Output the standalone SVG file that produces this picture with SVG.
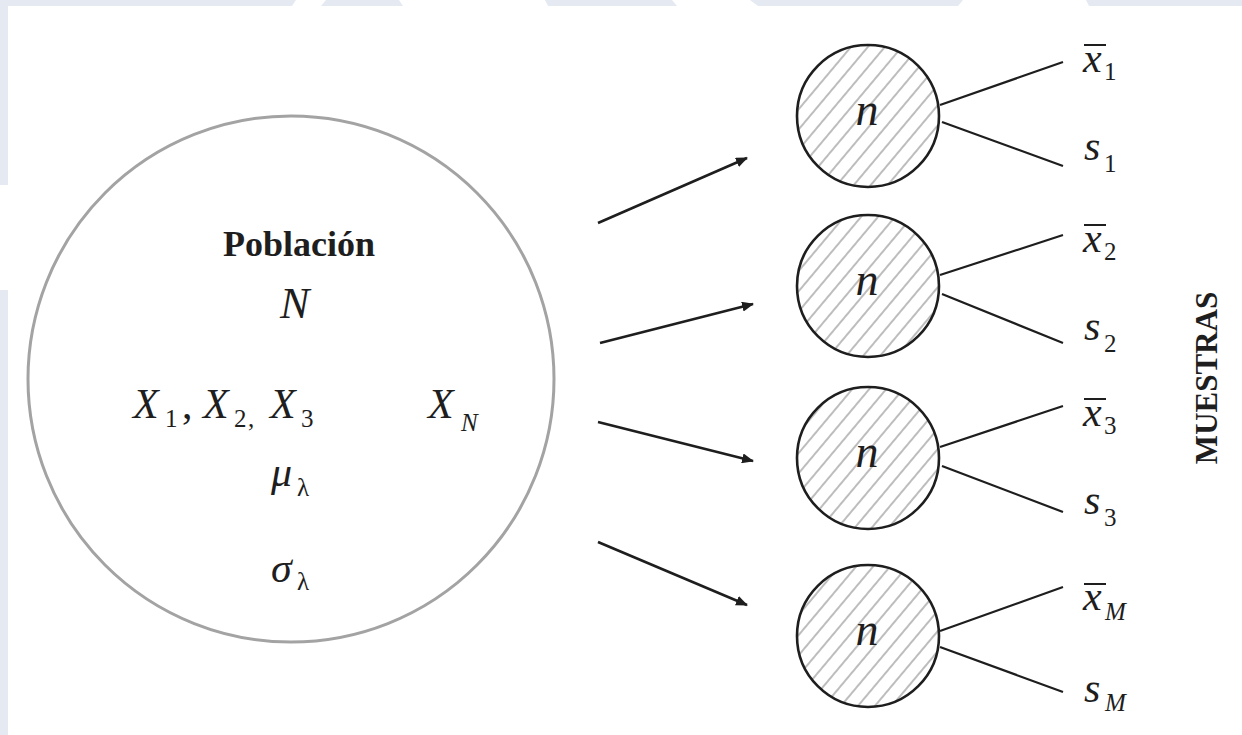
<svg xmlns="http://www.w3.org/2000/svg" width="1242" height="735" viewBox="0 0 1242 735">
<style>
.bg{fill:#e5eaf2}
.serif{font-family:"Liberation Serif","Times New Roman",serif;fill:#1e1e1e}
.it{font-style:italic}
.main{font-size:42px}
.sub{font-size:25px}
.small{stroke:#1e1e1e;stroke-width:2.6}
.branch{stroke:#1e1e1e;stroke-width:2.2;fill:none}
.conn{stroke:#1e1e1e;stroke-width:2.6;fill:none}
.bar{stroke:#1e1e1e;stroke-width:2}
</style>
<defs>
<pattern id="hatch" width="13" height="13" patternUnits="userSpaceOnUse" patternTransform="rotate(40)">
<rect width="13" height="13" fill="#fff"/>
<line x1="6" y1="0" x2="6" y2="13" stroke="#9a9a9a" stroke-width="1.3"/>
</pattern>
<marker id="arrow" viewBox="0 0 12 10" refX="11" refY="5" markerWidth="12" markerHeight="10" markerUnits="userSpaceOnUse" orient="auto">
<path d="M0,0 L12,5 L0,10 Z" fill="#1e1e1e"/>
</marker>
</defs>
<rect width="1242" height="735" fill="#fff"/>
<g id="background">
<rect class="bg" x="0" y="0" width="8" height="185"/>
<rect class="bg" x="0" y="290" width="8" height="445"/>
<path class="bg" d="M0,0 H296 L292,6 H0 Z"/>
<path class="bg" d="M321,6 L326,0 H399 L403,6 Z"/>
<path class="bg" d="M545,0 H672 L677,6 H548 Z"/>
<path class="bg" d="M750,0 H1242 V6 H1089 L1086,0 H963 L958,6 H758 Z"/>
</g>
<g id="population">
<circle cx="291" cy="379" r="263" fill="none" stroke="#a3a3a3" stroke-width="3"/>
<text class="serif" x="299" y="256" text-anchor="middle" font-size="36" font-weight="bold">Población</text>
<text class="serif it" x="280" y="318" font-size="44">N</text>
<text class="serif" y="418"><tspan class="it main" x="133">X</tspan><tspan class="sub" x="165" y="427">1</tspan><tspan class="main" x="182" y="418">,</tspan><tspan class="it main" x="203">X</tspan><tspan class="sub" x="234" y="427">2</tspan><tspan class="sub" x="248" y="427">,</tspan><tspan class="it main" x="270" y="418">X</tspan><tspan class="sub" x="301" y="427">3</tspan></text>
<text class="serif" y="418"><tspan class="it main" x="428">X</tspan><tspan class="it sub" x="461" y="431">N</tspan></text>
<text class="serif" y="486"><tspan class="it main" x="271">μ</tspan><tspan class="sub" x="297" y="496">λ</tspan></text>
<text class="serif" y="582"><tspan class="it main" x="271">σ</tspan><tspan class="sub" x="297" y="590">λ</tspan></text>
</g>
<g id="connectors">
<line class="conn" x1="598" y1="223" x2="747" y2="158" marker-end="url(#arrow)"/>
<line class="conn" x1="600" y1="343" x2="753" y2="304" marker-end="url(#arrow)"/>
<line class="conn" x1="598" y1="422" x2="753" y2="461" marker-end="url(#arrow)"/>
<line class="conn" x1="598" y1="542" x2="747" y2="605" marker-end="url(#arrow)"/>
</g>
<g id="sample1">
<circle class="small" cx="868" cy="116" r="71" fill="url(#hatch)"/>
<text class="serif it" x="867" y="125" font-size="46" text-anchor="middle">n</text>
<path class="branch" d="M940,105 L1063,62 M942,122 L1063,166"/>
<line class="bar" x1="1084" y1="45" x2="1106" y2="45"/>
<text class="serif" y="72"><tspan class="it main" x="1083">x</tspan><tspan class="sub" x="1104" y="80">1</tspan></text>
<text class="serif" y="160"><tspan class="it main" x="1084">s</tspan><tspan class="sub" x="1104" y="172">1</tspan></text>
</g>
<g id="sample2">
<circle class="small" cx="868" cy="286" r="71" fill="url(#hatch)"/>
<text class="serif it" x="867" y="295" font-size="46" text-anchor="middle">n</text>
<path class="branch" d="M940,275 L1063,235 M942,294 L1063,343"/>
<line class="bar" x1="1084" y1="225" x2="1106" y2="225"/>
<text class="serif" y="252"><tspan class="it main" x="1083">x</tspan><tspan class="sub" x="1104" y="260">2</tspan></text>
<text class="serif" y="340"><tspan class="it main" x="1084">s</tspan><tspan class="sub" x="1104" y="352">2</tspan></text>
</g>
<g id="sample3">
<circle class="small" cx="868" cy="458" r="71" fill="url(#hatch)"/>
<text class="serif it" x="867" y="467" font-size="46" text-anchor="middle">n</text>
<path class="branch" d="M940,447 L1063,406 M942,466 L1063,512"/>
<line class="bar" x1="1084" y1="399" x2="1106" y2="399"/>
<text class="serif" y="426"><tspan class="it main" x="1083">x</tspan><tspan class="sub" x="1104" y="434">3</tspan></text>
<text class="serif" y="514"><tspan class="it main" x="1084">s</tspan><tspan class="sub" x="1104" y="526">3</tspan></text>
</g>
<g id="sample4">
<circle class="small" cx="868" cy="636" r="71" fill="url(#hatch)"/>
<text class="serif it" x="867" y="645" font-size="46" text-anchor="middle">n</text>
<path class="branch" d="M940,631 L1063,587 M940,647 L1063,692"/>
<line class="bar" x1="1084" y1="584" x2="1106" y2="584"/>
<text class="serif" y="610"><tspan class="it main" x="1083">x</tspan><tspan class="it sub" x="1105" y="620">M</tspan></text>
<text class="serif" y="702"><tspan class="it main" x="1084">s</tspan><tspan class="it sub" x="1105" y="711">M</tspan></text>
</g>
<g id="label">
<text class="serif" transform="translate(1217,378) rotate(-90)" text-anchor="middle" font-size="31" font-weight="bold">MUESTRAS</text>
</g>
</svg>
